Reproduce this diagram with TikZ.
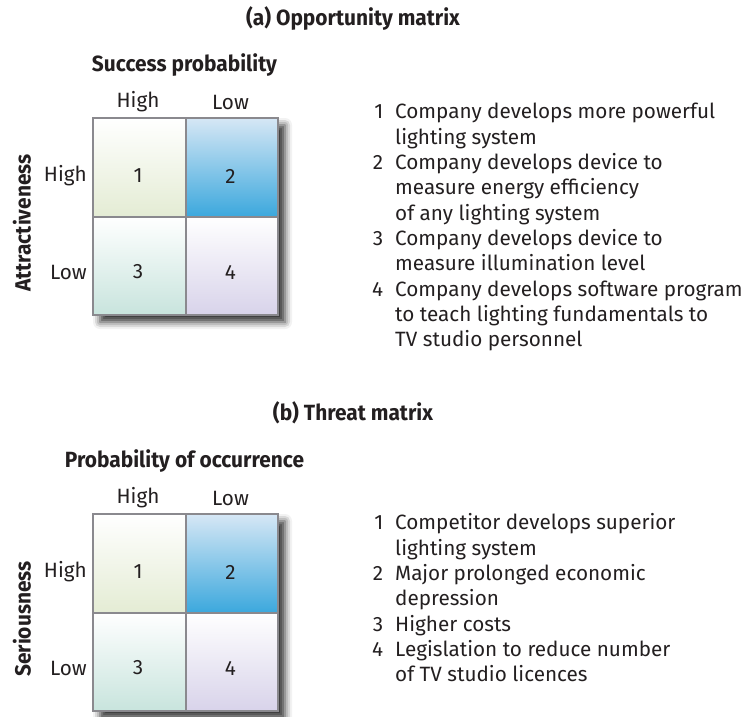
\documentclass[tikz,border=0pt]{standalone}
\usepackage{fontspec}
\setmainfont{Fira Sans}
\newfontfamily\headfont[FakeStretch=0.95]{Fira Sans}
\usetikzlibrary{shadows.blur}
\definecolor{gridgray}{RGB}{138,137,142}
\definecolor{inkgray}{RGB}{35,31,32}
\definecolor{cellgreen}{RGB}{228,236,212}
\definecolor{cellbluetop}{RGB}{214,231,245}
\definecolor{cellblue}{RGB}{60,168,221}
\definecolor{cellteal}{RGB}{200,228,221}
\definecolor{celllilac}{RGB}{216,211,234}
\tikzset{
  cell/.style={
    draw=gridgray,
    line width=2pt,
    inner sep=0pt,
    anchor=north west,
    minimum width=92.5pt,
    minimum height=98.5pt,
    shading=axis
  },
  matframe/.style={
    draw=gridgray,
    fill=white,
    line width=2pt,
    inner sep=0pt,
    anchor=north west,
    minimum width=185pt,
    minimum height=197pt,
    blur shadow={shadow xshift=7pt, shadow yshift=-7pt, shadow blur radius=7pt, shadow opacity=80}
  },
  heading/.style={
    text=inkgray,
    inner sep=0pt,
    font=\headfont\bfseries\fontsize{22}{26}\selectfont
  },
  axislabel/.style={heading, rotate=90},
  levellabel/.style={
    text=inkgray,
    inner sep=0pt,
    font=\fontsize{20.7}{25}\selectfont
  },
  listtext/.style={
    text=inkgray,
    inner sep=0pt,
    anchor=north west,
    font=\fontsize{20.7}{25.3}\selectfont
  }
}
\begin{document}
\begin{tikzpicture}[x=1pt,y=-1pt]
  \useasboundingbox (0,0) rectangle (749,716);
  \node[heading] (titlea) at (353,18) {(a) Opportunity matrix};
  \node[heading] (titleb) at (353,413) {(b) Threat matrix};
  \foreach \ytop/\pn/\across/\down in {117/a/Success probability/Attractiveness,
                                       513/b/Probability of occurrence/Seriousness}{
      \node[matframe] (m\pn) at (92,\ytop) {};
      \foreach \n/\col/\row/\ctop/\cbot in {1/0/0/white/cellgreen, 2/1/0/cellbluetop/cellblue,
                                            3/0/1/white/cellteal, 4/1/1/white/celllilac}{
          \node[cell, top color=\ctop, bottom color=\cbot] (c\pn\n) at (92+\col*92.5,\ytop+\row*98.5) {};
          \node[levellabel] (n\pn\n) at (138+\col*92.5,\ytop+59+\row*96) {\n};
      }
      \node[heading] (across\pn) at (184.5,\ytop-52) {\across};
      \node[axislabel] (down\pn) at (22,\ytop+106) {\down};
      \node[levellabel] (colhigh\pn) at (138,\ytop-15) {High};
      \node[levellabel] (collow\pn) at (230.5,\ytop-15) {Low};
      \node[levellabel, anchor=east] (rowhigh\pn) at (87,\ytop+59) {High};
      \node[levellabel, anchor=east] (rowlow\pn) at (87,\ytop+155) {Low};
  }
  \node[listtext] (lista) at (372,101) {%
    \begin{tabular}{@{}r@{\hspace{12pt}}l@{}}
      1 & Company develops more powerful\\
        & lighting system\\
      2 & Company develops device to\\
        & measure energy efficiency\\
        & of any lighting system\\
      3 & Company develops device to\\
        & measure illumination level\\
      4 & Company develops software program\\
        & to teach lighting fundamentals to\\
        & TV studio personnel
    \end{tabular}};
  \node[listtext] (listb) at (372,512) {%
    \begin{tabular}{@{}r@{\hspace{12pt}}l@{}}
      1 & Competitor develops superior\\
        & lighting system\\
      2 & Major prolonged economic\\
        & depression\\
      3 & Higher costs\\
      4 & Legislation to reduce number\\
        & of TV studio licences
    \end{tabular}};
\end{tikzpicture}
\end{document}
